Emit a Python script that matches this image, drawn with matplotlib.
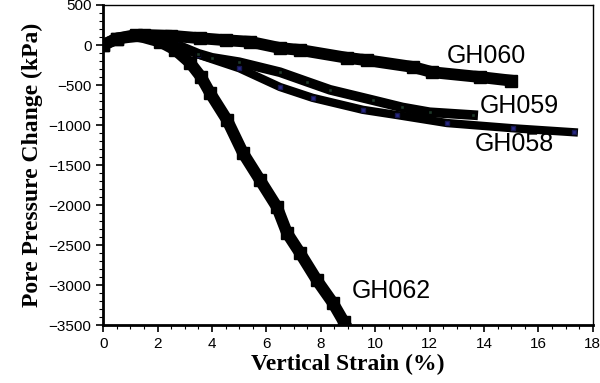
import matplotlib
matplotlib.use("Agg")
import matplotlib.pyplot as plt
from matplotlib.ticker import MultipleLocator

# datos (deformacion %, cambio de presion kPa)
x_gh062 = [0.0, 0.5, 1.2, 2.1, 2.65, 3.2, 3.6, 3.93, 4.56, 5.14, 5.77, 6.39, 6.76, 7.24, 7.86, 8.45, 8.85]
y_gh062 = [0, 80, 125, 40, -60, -225, -400, -600, -940, -1350, -1690, -2025, -2350, -2600, -2940, -3225, -3460]

x_gh060 = [0.0, 0.5, 1.5, 2.5, 3.56, 4.5, 5.4, 6.5, 7.24, 8.96, 9.7, 11.4, 12.1, 13.85, 15.0]
y_gh060 = [0, 80, 125, 115, 85, 60, 40, -38, -62, -160, -190, -275, -340, -400, -445]

x_gh059 = [0.0, 0.5, 1.5, 2.2, 2.72, 3.5, 4.0, 5.0, 6.5, 7.5, 8.34, 9.92, 11.0, 12.0, 13.6]
y_gh059 = [0, 80, 125, 80, 0, -110, -160, -215, -340, -460, -560, -690, -780, -840, -875]

x_gh058 = [0.0, 0.5, 1.5, 2.2, 2.72, 3.5, 5.0, 6.5, 7.7, 9.55, 10.8, 12.64, 15.06, 17.3]
y_gh058 = [0, 80, 125, 70, 0, -120, -290, -525, -660, -810, -875, -975, -1040, -1090]

fig = plt.figure(figsize=(6, 3.83), dpi=100)
ax = fig.add_axes([0.172, 0.151, 0.816, 0.836])

ax.plot(x_gh058, y_gh058, color='black', lw=6, zorder=2)
ax.plot(x_gh058, y_gh058, ls='none', marker='s', ms=3, mfc='#2a2a8a', mec='#181850', zorder=3)
ax.plot(x_gh059, y_gh059, color='black', lw=7, zorder=2)
ax.plot(x_gh059, y_gh059, ls='none', marker='s', ms=3, mfc='#1f3a2a', mec='black', zorder=3)
ax.plot(x_gh060, y_gh060, color='black', lw=8.5, marker='s', ms=8, zorder=4)
ax.plot(x_gh062, y_gh062, color='black', lw=8.5, marker='s', ms=8, zorder=4)

sans = ['Liberation Sans', 'DejaVu Sans']
ax.text(12.64, -137, 'GH060', fontsize=18, family=sans, va='center')
ax.text(13.85, -762, 'GH059', fontsize=18, family=sans, va='center')
ax.text(13.67, -1237, 'GH058', fontsize=18, family=sans, va='center')
ax.text(9.15, -3075, 'GH062', fontsize=18, family=sans, va='center')

ax.set_xlim(0, 18)
ax.set_ylim(-3500, 500)
ax.xaxis.set_major_locator(MultipleLocator(2))
ax.xaxis.set_minor_locator(MultipleLocator(0.5))
ax.yaxis.set_major_locator(MultipleLocator(500))
ax.yaxis.set_minor_locator(MultipleLocator(100))
ax.tick_params(which='both', direction='out', top=False, right=False)
ax.tick_params(which='major', length=5, width=1.2, labelsize=11)
ax.tick_params(which='minor', length=3, width=0.8)
for lab in ax.get_xticklabels() + ax.get_yticklabels():
    lab.set_family(sans)

ax.spines['left'].set_linewidth(2)
ax.spines['bottom'].set_linewidth(2)
ax.spines['top'].set_linewidth(1)
ax.spines['right'].set_linewidth(1)

ax.set_xlabel('Vertical Strain (%)', fontsize=17, fontweight='bold', family='Liberation Serif', labelpad=2)
ax.set_ylabel('Pore Pressure Change (kPa)', fontsize=17, fontweight='bold', family='Liberation Serif', labelpad=4)

fig.savefig('out.png', dpi=100)
